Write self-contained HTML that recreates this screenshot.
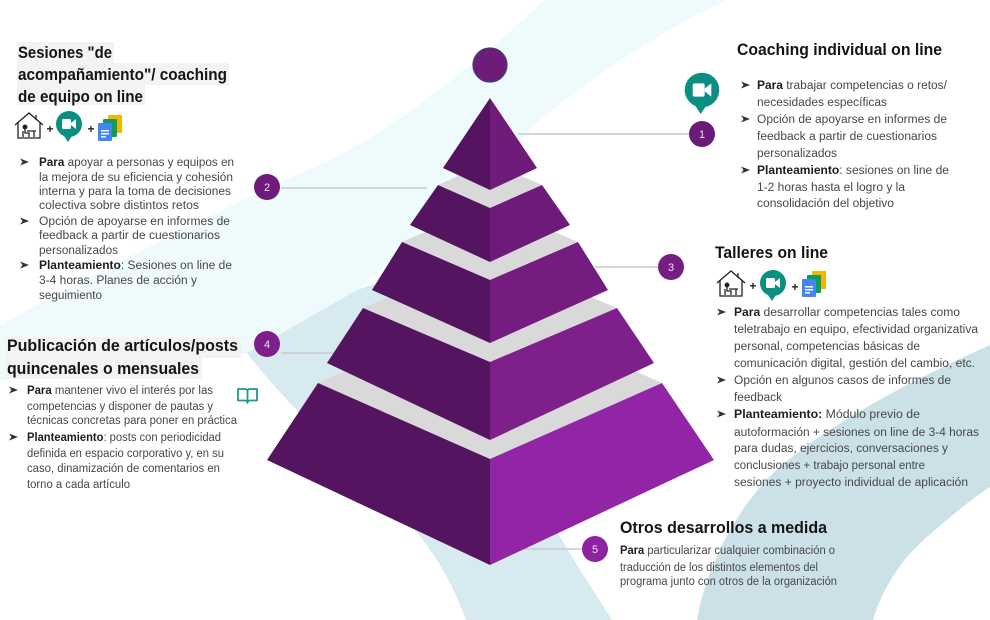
<!DOCTYPE html>
<html><head><meta charset="utf-8"><style>
html,body{margin:0;padding:0;background:#fff;}
svg{display:block;}
text{font-family:"Liberation Sans",Arial,sans-serif;}
.b{font-size:11.5px;fill:#474747;}
.h{font-size:17px;font-weight:bold;fill:#141414;}
.k{font-weight:bold;fill:#1e1e1e;}
.n{font-size:11px;fill:#efe3f2;text-anchor:middle;}
</style></head><body>
<svg width="990" height="620" viewBox="0 0 990 620" xmlns="http://www.w3.org/2000/svg">
<rect width="990" height="620" fill="#fff"/>
<!-- background bands -->
<path d="M545,0 L728,0 C680,20 600,70 540,120 L460,200 L357,290 L247,353 C170,360 80,372 0,380 L0,325 C120,260 260,190 330,160 C400,125 480,60 545,0 Z" fill="#eefafc"/>
<path d="M440,260 L357,290 L247,353 C290,410 370,480 415,530 C440,560 455,590 466,620 L612,620 C590,585 560,540 540,500 Z" fill="#d7eaf0"/>
<path d="M990,345 C900,385 800,440 760,487 C722,532 703,585 697,620 L873,620 C882,590 900,560 927,537 C950,517 970,500 990,487 Z" fill="#cbe1e7"/>

<!-- heading highlight boxes -->
<g fill="#f3f3f3">
<rect x="17" y="42" width="97" height="21"/>
<rect x="17" y="63" width="212" height="22"/>
<rect x="17" y="85" width="128" height="20"/>
<rect x="5" y="337" width="236" height="21"/>
<rect x="5" y="358" width="197" height="21"/>
</g>

<!-- connector lines -->
<g stroke="#c9c9c9" stroke-width="1.5">
<line x1="518" y1="134" x2="690" y2="134"/>
<line x1="281" y1="188" x2="427" y2="188"/>
<line x1="595" y1="267" x2="658" y2="267"/>
<line x1="281" y1="353" x2="333" y2="353"/>
<line x1="523" y1="549" x2="582" y2="549"/>
</g>

<!-- pyramid -->
<polygon points="318,383 490,459 662,383 490,307" fill="#d9d9d9"/>
<polygon points="318,383 490,459 490,565 267,460" fill="#55145f"/>
<polygon points="662,383 490,459 490,565 714,460" fill="#9225a5"/>
<polygon points="363,308 490,362 617,308 490,254" fill="#d9d9d9"/>
<polygon points="363,308 490,362 490,440 327,363" fill="#55145f"/>
<polygon points="617,308 490,362 490,440 654,363" fill="#7e1f8b"/>
<polygon points="402,242 490,280 578,242 490,204" fill="#d9d9d9"/>
<polygon points="402,242 490,280 490,343 372,290" fill="#55145f"/>
<polygon points="578,242 490,280 490,343 608,290" fill="#741c80"/>
<polygon points="438,185 490,208 542,185 490,162" fill="#d9d9d9"/>
<polygon points="438,185 490,208 490,262 410,225" fill="#55145f"/>
<polygon points="542,185 490,208 490,262 570,225" fill="#6e1a7a"/>
<polygon points="490,98 490,190 443,168" fill="#55145f"/>
<polygon points="490,98 537,168 490,190" fill="#6e1b7a"/>

<!-- top circle -->
<circle cx="490" cy="65" r="17" fill="#6e1b7a" stroke="#3b3f72" stroke-width="1.2"/>

<!-- number circles -->
<circle cx="702" cy="134" r="13" fill="#6a1a78"/><text class="n" x="702" y="138">1</text>
<circle cx="267" cy="187" r="13" fill="#6e1b7c"/><text class="n" x="267" y="191">2</text>
<circle cx="671" cy="267" r="13" fill="#751d83"/><text class="n" x="671" y="271">3</text>
<circle cx="267" cy="344" r="13" fill="#7c1f8a"/><text class="n" x="267" y="348">4</text>
<circle cx="595" cy="549" r="13" fill="#8e23a1"/><text class="n" x="595" y="553">5</text>

<!-- ===== Block A ===== -->
<text class="h" x="18" y="58" textLength="94" lengthAdjust="spacingAndGlyphs">Sesiones "de</text>
<text class="h" x="18" y="80" textLength="209" lengthAdjust="spacingAndGlyphs">acompañamiento"/ coaching</text>
<text class="h" x="18" y="102" textLength="125" lengthAdjust="spacingAndGlyphs">de equipo on line</text>
<!-- icons A -->
<g transform="translate(15,112)" stroke="#222" fill="none" stroke-width="1.3">
<polyline points="0,13 14,1 28,13"/><polyline points="3,10 3,26 25,26 25,10"/><line x1="21" y1="3" x2="21" y2="8"/>
<circle cx="10" cy="15" r="1.8" fill="#222"/><path d="M10,17 V21 H14 V25 M8,25 V19 M12,19 H21 M19,19 V25"/>
</g>
<text x="50" y="133" style="font-size:12px;font-weight:bold;fill:#222;text-anchor:middle">+</text>
<g transform="translate(69,124)">
<circle r="13" fill="#0b8f80"/><path d="M-7,9 L3,12 L-1,18 Z" fill="#0b8f80"/>
<rect x="-7" y="-5" width="9" height="10" rx="1.5" fill="#fff"/><polygon points="2,-1 7,-5 7,5 2,1" fill="#fff"/>
</g>
<text x="91" y="133" style="font-size:12px;font-weight:bold;fill:#222;text-anchor:middle">+</text>
<g transform="translate(98,115)">
<rect x="10" y="0" width="14" height="18" rx="1" fill="#f4b400"/><rect x="5" y="4" width="14" height="18" rx="1" fill="#0f9d58"/><rect x="0" y="8" width="14" height="18" rx="1" fill="#4285f4"/>
<rect x="3" y="15" width="8" height="1.5" fill="#fff"/><rect x="3" y="18" width="8" height="1.5" fill="#fff"/><rect x="3" y="21" width="5" height="1.5" fill="#fff"/>
</g>
<!-- bullets A -->
<g fill="#333">
<path d="M20,158.5 L29,162 L20,165.5 L22.5,162 Z"/>
<path d="M20,217.5 L29,221 L20,224.5 L22.5,221 Z"/>
<path d="M20,261.5 L29,265 L20,268.5 L22.5,265 Z"/>
</g>
<text class="b" x="39" y="166" textLength="195" lengthAdjust="spacingAndGlyphs"><tspan class="k">Para</tspan> apoyar a personas y equipos en</text>
<text class="b" x="39" y="181" textLength="194" lengthAdjust="spacingAndGlyphs">la mejora de su eficiencia y cohesión</text>
<text class="b" x="39" y="195" textLength="192" lengthAdjust="spacingAndGlyphs">interna y para la toma de decisiones</text>
<text class="b" x="39" y="209" textLength="160" lengthAdjust="spacingAndGlyphs">colectiva sobre distintos retos</text>
<text class="b" x="39" y="225" textLength="191" lengthAdjust="spacingAndGlyphs">Opción de apoyarse en informes de</text>
<text class="b" x="39" y="239" textLength="181" lengthAdjust="spacingAndGlyphs">feedback a partir de cuestionarios</text>
<text class="b" x="39" y="254" textLength="79" lengthAdjust="spacingAndGlyphs">personalizados</text>
<text class="b" x="39" y="269" textLength="193" lengthAdjust="spacingAndGlyphs"><tspan class="k">Planteamiento</tspan>: Sesiones on line de</text>
<text class="b" x="39" y="284" textLength="158" lengthAdjust="spacingAndGlyphs">3-4 horas. Planes de acción y</text>
<text class="b" x="39" y="299" textLength="63" lengthAdjust="spacingAndGlyphs">seguimiento</text>

<!-- ===== Block B ===== -->
<text class="h" x="737" y="55" textLength="205" lengthAdjust="spacingAndGlyphs">Coaching individual on line</text>
<g transform="translate(702,90) scale(1.33)">
<circle r="13" fill="#0b8f80"/><path d="M-7,9 L3,12 L-1,18 Z" fill="#0b8f80"/>
<rect x="-7" y="-5" width="9" height="10" rx="1.5" fill="#fff"/><polygon points="2,-1 7,-5 7,5 2,1" fill="#fff"/>
</g>
<g fill="#333">
<path d="M741,81.5 L750,85 L741,88.5 L743.5,85 Z"/>
<path d="M741,115.5 L750,119 L741,122.5 L743.5,119 Z"/>
<path d="M741,166.5 L750,170 L741,173.5 L743.5,170 Z"/>
</g>
<text class="b" x="757" y="89" textLength="190" lengthAdjust="spacingAndGlyphs"><tspan class="k">Para</tspan> trabajar competencias o retos/</text>
<text class="b" x="757" y="106" textLength="130" lengthAdjust="spacingAndGlyphs">necesidades específicas</text>
<text class="b" x="757" y="123" textLength="190" lengthAdjust="spacingAndGlyphs">Opción de apoyarse en informes de</text>
<text class="b" x="757" y="140" textLength="180" lengthAdjust="spacingAndGlyphs">feedback a partir de cuestionarios</text>
<text class="b" x="757" y="157" textLength="80" lengthAdjust="spacingAndGlyphs">personalizados</text>
<text class="b" x="757" y="174" textLength="192" lengthAdjust="spacingAndGlyphs"><tspan class="k">Planteamiento</tspan>: sesiones on line de</text>
<text class="b" x="757" y="191" textLength="148" lengthAdjust="spacingAndGlyphs">1-2 horas hasta el logro y la</text>
<text class="b" x="757" y="207" textLength="137" lengthAdjust="spacingAndGlyphs">consolidación del objetivo</text>

<!-- ===== Block C ===== -->
<text class="h" x="715" y="258" textLength="113" lengthAdjust="spacingAndGlyphs">Talleres on line</text>
<g transform="translate(717,270)" stroke="#222" fill="none" stroke-width="1.3">
<polyline points="0,13 14,1 28,13"/><polyline points="3,10 3,26 25,26 25,10"/><line x1="21" y1="3" x2="21" y2="8"/>
<circle cx="10" cy="15" r="1.8" fill="#222"/><path d="M10,17 V21 H14 V25 M8,25 V19 M12,19 H21 M19,19 V25"/>
</g>
<text x="753" y="290" style="font-size:12px;font-weight:bold;fill:#222;text-anchor:middle">+</text>
<g transform="translate(773,283)">
<circle r="13" fill="#0b8f80"/><path d="M-7,9 L3,12 L-1,18 Z" fill="#0b8f80"/>
<rect x="-7" y="-5" width="9" height="10" rx="1.5" fill="#fff"/><polygon points="2,-1 7,-5 7,5 2,1" fill="#fff"/>
</g>
<text x="795" y="291" style="font-size:12px;font-weight:bold;fill:#222;text-anchor:middle">+</text>
<g transform="translate(802,271)">
<rect x="10" y="0" width="14" height="18" rx="1" fill="#f4b400"/><rect x="5" y="4" width="14" height="18" rx="1" fill="#0f9d58"/><rect x="0" y="8" width="14" height="18" rx="1" fill="#4285f4"/>
<rect x="3" y="15" width="8" height="1.5" fill="#fff"/><rect x="3" y="18" width="8" height="1.5" fill="#fff"/><rect x="3" y="21" width="5" height="1.5" fill="#fff"/>
</g>
<g fill="#333">
<path d="M717,308.5 L726,312 L717,315.5 L719.5,312 Z"/>
<path d="M717,376.5 L726,380 L717,383.5 L719.5,380 Z"/>
<path d="M717,410.5 L726,414 L717,417.5 L719.5,414 Z"/>
</g>
<text class="b" x="734" y="316" textLength="226" lengthAdjust="spacingAndGlyphs"><tspan class="k">Para</tspan> desarrollar competencias tales como</text>
<text class="b" x="734" y="333" textLength="244" lengthAdjust="spacingAndGlyphs">teletrabajo en equipo, efectividad organizativa</text>
<text class="b" x="734" y="350" textLength="186" lengthAdjust="spacingAndGlyphs">personal, competencias básicas de</text>
<text class="b" x="734" y="367" textLength="241" lengthAdjust="spacingAndGlyphs">comunicación digital, gestión del cambio, etc.</text>
<text class="b" x="734" y="384" textLength="217" lengthAdjust="spacingAndGlyphs">Opción en algunos casos de informes de</text>
<text class="b" x="734" y="401" textLength="48" lengthAdjust="spacingAndGlyphs">feedback</text>
<text class="b" x="734" y="418" textLength="186" lengthAdjust="spacingAndGlyphs"><tspan class="k">Planteamiento:</tspan> Módulo previo de</text>
<text class="b" x="734" y="436" textLength="245" lengthAdjust="spacingAndGlyphs">autoformación + sesiones on line de 3-4 horas</text>
<text class="b" x="734" y="452" textLength="214" lengthAdjust="spacingAndGlyphs">para dudas, ejercicios, conversaciones y</text>
<text class="b" x="734" y="469" textLength="191" lengthAdjust="spacingAndGlyphs">conclusiones + trabajo personal entre</text>
<text class="b" x="734" y="486" textLength="234" lengthAdjust="spacingAndGlyphs">sesiones + proyecto individual de aplicación</text>

<!-- ===== Block D ===== -->
<text class="h" x="7" y="351" textLength="231" lengthAdjust="spacingAndGlyphs">Publicación de artículos/posts</text>
<text class="h" x="7" y="374" textLength="192" lengthAdjust="spacingAndGlyphs">quincenales o mensuales</text>
<g fill="#333">
<path d="M9,386.5 L18,390 L9,393.5 L11.5,390 Z"/>
<path d="M9,433.5 L18,437 L9,440.5 L11.5,437 Z"/>
</g>
<text class="b" x="27" y="394" textLength="186" lengthAdjust="spacingAndGlyphs"><tspan class="k">Para</tspan> mantener vivo  el interés por las</text>
<text class="b" x="27" y="410" textLength="186" lengthAdjust="spacingAndGlyphs">competencias y disponer de pautas y</text>
<text class="b" x="27" y="424" textLength="210" lengthAdjust="spacingAndGlyphs">técnicas concretas para poner en práctica</text>
<text class="b" x="27" y="441" textLength="194" lengthAdjust="spacingAndGlyphs"><tspan class="k">Planteamiento</tspan>: posts con periodicidad</text>
<text class="b" x="27" y="457" textLength="197" lengthAdjust="spacingAndGlyphs">definida en espacio corporativo y, en su</text>
<text class="b" x="27" y="472" textLength="193" lengthAdjust="spacingAndGlyphs">caso, dinamización de comentarios en</text>
<text class="b" x="27" y="488" textLength="103" lengthAdjust="spacingAndGlyphs">torno a cada artículo</text>
<!-- book icon -->
<path d="M238,389 H245 Q247.5,389 247.5,391.5 V403 Q247.5,400.5 245,400.5 H238 Z M257,389 H250 Q247.5,389 247.5,391.5 V403 Q247.5,400.5 250,400.5 H257 Z" fill="none" stroke="#1a9b8c" stroke-width="1.8" stroke-linejoin="round"/>

<!-- ===== Block E ===== -->
<text class="h" x="620" y="533" textLength="207" lengthAdjust="spacingAndGlyphs">Otros desarrollos a medida</text>
<text class="b" x="620" y="554" textLength="215" lengthAdjust="spacingAndGlyphs"><tspan class="k">Para</tspan> particularizar cualquier combinación o</text>
<text class="b" x="620" y="571" textLength="198" lengthAdjust="spacingAndGlyphs">traducción de los distintos elementos del</text>
<text class="b" x="620" y="585" textLength="217" lengthAdjust="spacingAndGlyphs">programa junto con otros de la organización</text>
</svg>
</body></html>
